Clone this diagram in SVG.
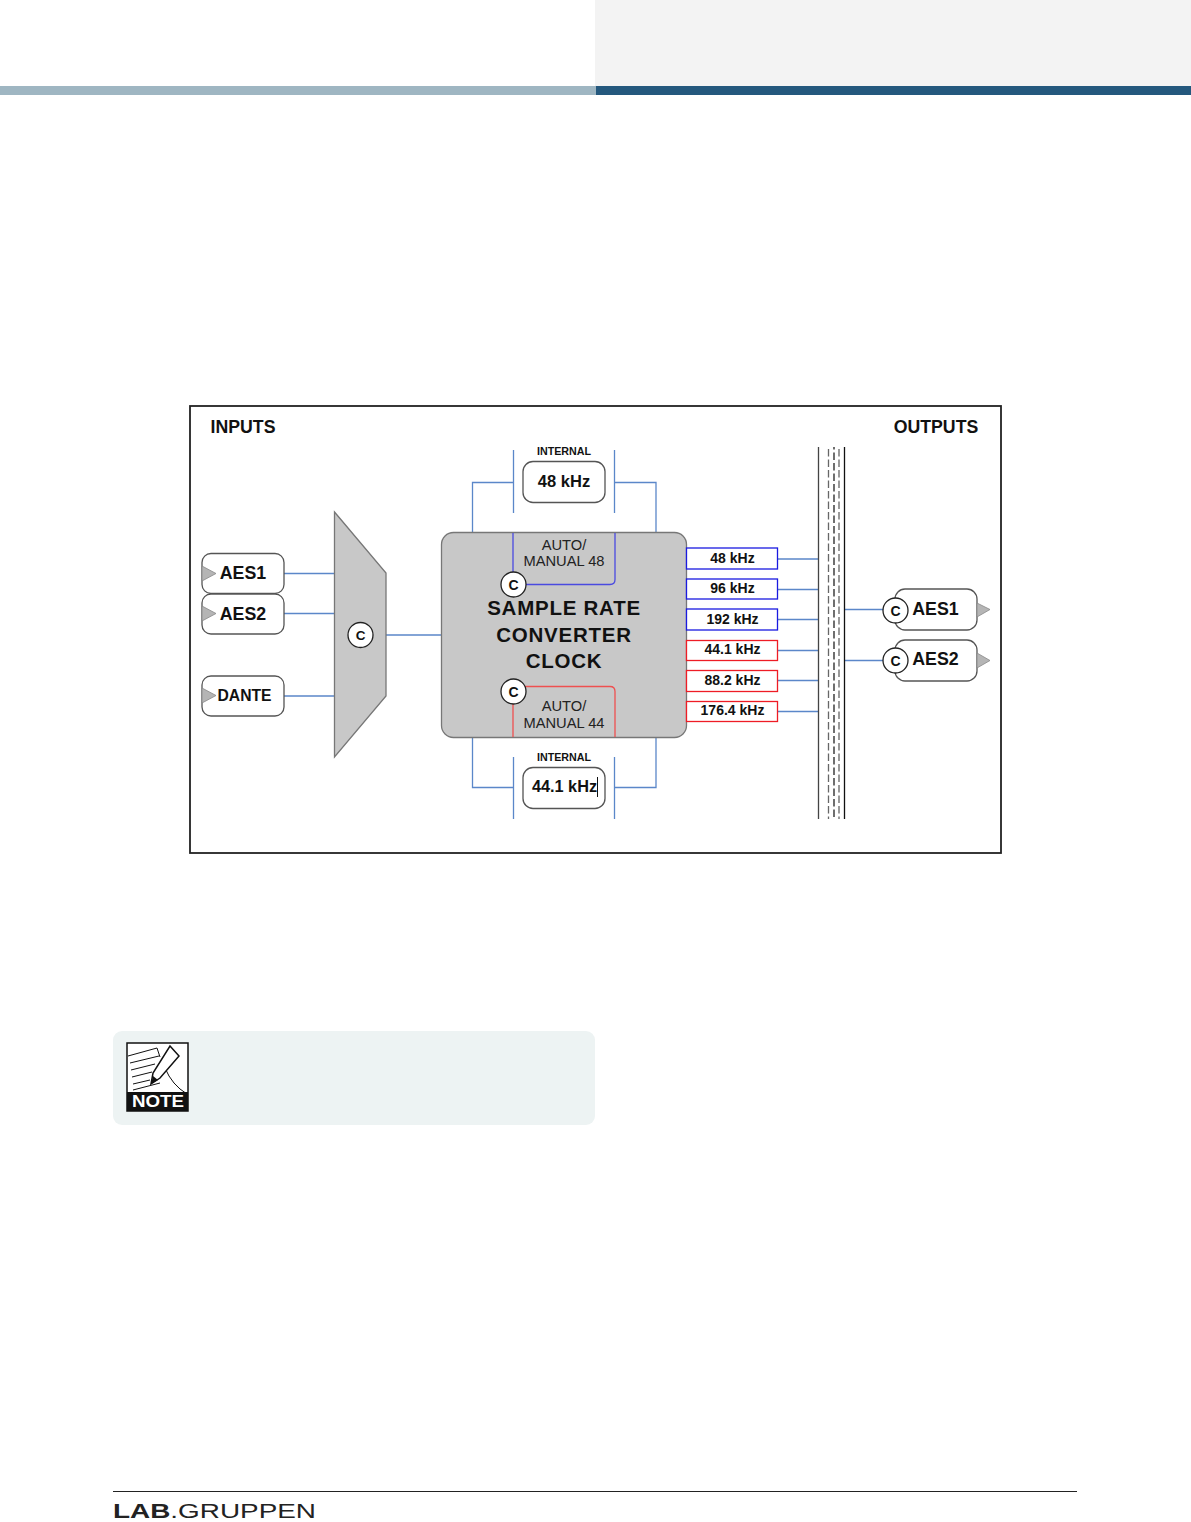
<svg xmlns="http://www.w3.org/2000/svg" width="1191" height="1522" viewBox="0 0 1191 1522">
<style>
text{font-family:"Liberation Sans",Arial,sans-serif;fill:#111;text-anchor:middle}
.b{font-weight:bold}
.n{fill:#fff;stroke:#555;stroke-width:1.3}
.g{fill:#c8c8c8;stroke:#777;stroke-width:1.3}
.l{fill:none;stroke:#5b87c9;stroke-width:1.3}
.c{fill:#fff;stroke:#222;stroke-width:1.3}
.t{fill:#b5b5b5;stroke:#888;stroke-width:.8}
.fb{fill:#fff;stroke:#1a1ae0;stroke-width:1.3}
.fr{fill:#fff;stroke:#ee1c25;stroke-width:1.3}
</style>
<rect x="595" y="0" width="596" height="86" fill="#f3f3f3"/>
<rect x="0" y="86" width="596" height="9" fill="#9fb6c2"/>
<rect x="596" y="86" width="595" height="9" fill="#24587d"/>
<rect x="190" y="406" width="811" height="447" fill="#fff" stroke="#222" stroke-width="1.8"/>
<text class="b" x="243" y="433" font-size="17.700">INPUTS</text>
<text class="b" x="936" y="433" font-size="17.700">OUTPUTS</text>
<g id="connectors">
<path class="l" d="M284 573.500H335M284 613.500H335M284 696H335M386 635H442"/>
<path class="l" d="M472.500 533V482.500H513M513.500 450V513M614.500 450V513M615 482.500H656V533"/>
<path class="l" d="M472.500 737V787.500H513M513.500 757V819M614.500 757V819M615 787.500H656V737"/>
<path class="l" d="M778 559H819M778 589.500H819M778 619.500H819M778 650.500H819M778 680.500H819M778 711.500H819M845 609.500H884M845 660.500H884"/>
<path fill="none" stroke="#444" stroke-width="1.300" d="M818.500 447V819"/>
<path fill="none" stroke="#111" stroke-width="1.300" d="M844.500 447V819"/>
<path fill="none" stroke="#666" stroke-width="1.300" stroke-dasharray="7.500 3" d="M828.500 449V819M839 449V819"/>
<path fill="none" stroke="#222" stroke-width="1.300" stroke-dasharray="7.500 3" stroke-dashoffset="5" d="M834 447V819"/>
</g>
<g id="aes1-in"><rect class="n" x="202" y="553.500" width="82" height="40" rx="9"/><path class="t" d="M202 566L216 573.500L202 581Z"/><text class="b" x="243" y="578.500" font-size="17.800">AES1</text></g>
<g id="aes2-in"><rect class="n" x="202" y="594" width="82" height="40" rx="9"/><path class="t" d="M202 606L216 613.500L202 621Z"/><text class="b" x="243" y="619.500" font-size="17.800">AES2</text></g>
<g id="dante-in"><rect class="n" x="202" y="676" width="82" height="40" rx="9"/><path class="t" d="M202 688L216 695.500L202 703Z"/><text class="b" x="244.500" y="700.500" font-size="15.700">DANTE</text></g>
<g id="mux"><path class="g" d="M334.500 512L386 573V696L334.500 757Z"/><circle class="c" cx="360.500" cy="635" r="12.500"/><text class="b" x="360.500" y="640" font-size="13.500">C</text></g>
<g id="internal-48"><text class="b" x="564" y="455" font-size="10.700">INTERNAL</text><rect class="n" x="523" y="461.500" width="82" height="41" rx="10"/><text class="b" x="564" y="486.500" font-size="16.500">48 kHz</text></g>
<g id="internal-44"><text class="b" x="564" y="760.500" font-size="10.700">INTERNAL</text><rect class="n" x="523" y="767.500" width="82" height="41" rx="10"/><text class="b" x="564.500" y="792" font-size="16.300">44.1 kHz</text><path d="M597.500 777V797" stroke="#111" stroke-width="1"/></g>
<g id="src">
<rect class="g" x="441.500" y="532.500" width="245" height="205" rx="12"/>
<path fill="none" stroke="#4a4ae0" stroke-width="1.300" d="M513 533V584.500H610Q615 584.500 615 579.500V533"/>
<path fill="none" stroke="#ee5050" stroke-width="1.300" d="M513 737V686.500H610Q615 686.500 615 691.500V737"/>
<text x="564" y="549.500" font-size="14.700" style="fill:#222">AUTO/</text>
<text x="564" y="566" font-size="14.700" style="fill:#222">MANUAL 48</text>
<text x="564" y="710.500" font-size="14.700" style="fill:#222">AUTO/</text>
<text x="564" y="727.500" font-size="14.700" style="fill:#222">MANUAL 44</text>
<text class="b" x="564" y="615" font-size="20.500" letter-spacing=".75">SAMPLE RATE</text>
<text class="b" x="564" y="642" font-size="20.500" letter-spacing=".75">CONVERTER</text>
<text class="b" x="564" y="668" font-size="20.500" letter-spacing=".75">CLOCK</text>
<circle class="c" cx="513.500" cy="584.500" r="12.500"/><text class="b" x="513.500" y="590" font-size="14">C</text>
<circle class="c" cx="513.500" cy="691.500" r="12.500"/><text class="b" x="513.500" y="697" font-size="14">C</text>
</g>
<g id="f48"><rect class="fb" x="686.500" y="548" width="91" height="21"/><text class="b" x="732.500" y="562.500" font-size="14">48 kHz</text></g>
<g id="f96"><rect class="fb" x="686.500" y="579" width="91" height="20"/><text class="b" x="732.500" y="592.500" font-size="14">96 kHz</text></g>
<g id="f192"><rect class="fb" x="686.500" y="609" width="91" height="21"/><text class="b" x="732.500" y="623.500" font-size="14">192 kHz</text></g>
<g id="f441"><rect class="fr" x="686.500" y="640.500" width="91" height="20"/><text class="b" x="732.500" y="654" font-size="14">44.1 kHz</text></g>
<g id="f882"><rect class="fr" x="686.500" y="670.500" width="91" height="21"/><text class="b" x="732.500" y="685" font-size="14">88.2 kHz</text></g>
<g id="f1764"><rect class="fr" x="686.500" y="701.500" width="91" height="20"/><text class="b" x="732.500" y="715" font-size="14">176.4 kHz</text></g>
<g id="aes1-out"><rect class="n" x="895" y="589" width="82" height="41" rx="10"/><path class="t" d="M977 603L990 609.500L977 617Z"/><circle class="c" cx="895.500" cy="610.500" r="12.500"/><text class="b" x="895.500" y="616" font-size="14">C</text><text class="b" x="935.500" y="615" font-size="17.800">AES1</text></g>
<g id="aes2-out"><rect class="n" x="895" y="640" width="82" height="41" rx="10"/><path class="t" d="M977 653L990 660.500L977 668Z"/><circle class="c" cx="895.500" cy="660.500" r="12.500"/><text class="b" x="895.500" y="666" font-size="14">C</text><text class="b" x="935.500" y="665" font-size="17.800">AES2</text></g>
<g id="note">
<rect x="113" y="1031" width="482" height="94" rx="9" fill="#edf3f3"/>
<rect x="127" y="1043" width="61" height="68" fill="#fff" stroke="#111" stroke-width="1.500"/>
<rect x="127" y="1092" width="61" height="19" fill="#111"/>
<path fill="none" stroke="#111" stroke-width="1" d="M128 1056L157 1048L160 1057M130 1063L159 1056M131 1070L155 1064M132 1077L152 1072M133 1084L150 1080M133 1090L160 1083M165 1068Q172 1085 187 1094"/>
<path fill="#fff" stroke="#111" stroke-width="1.500" d="M170 1046L179 1056L160 1078L151 1084L153 1073Z"/>
<path fill="#111" d="M151 1084L153 1076L158 1080Z"/>
<text class="b" x="158" y="1107" font-size="16" style="fill:#fff" textLength="52" lengthAdjust="spacingAndGlyphs">NOTE</text>
</g>
<g id="footer">
<path d="M113 1491.500H1077" stroke="#222" stroke-width="1"/>
<text x="214.500" y="1517.500" font-size="20" textLength="203" lengthAdjust="spacingAndGlyphs" style="fill:#222"><tspan font-weight="bold">LAB</tspan>.GRUPPEN</text>
</g>
</svg>
